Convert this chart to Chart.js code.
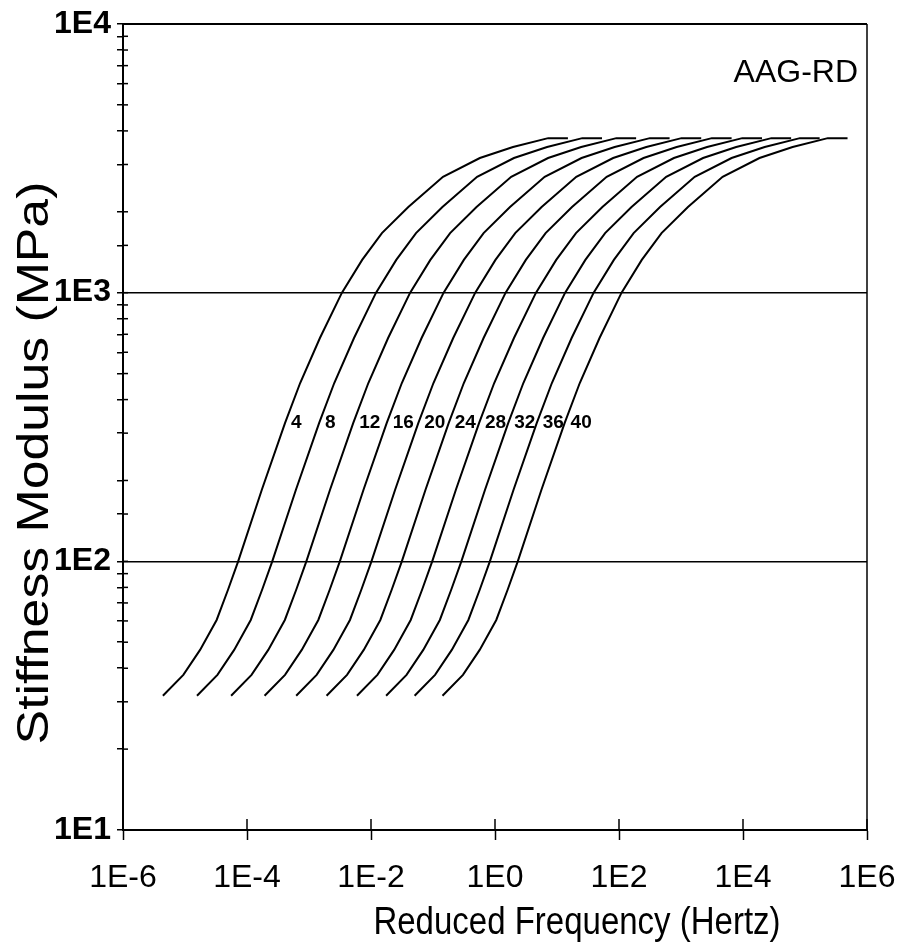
<!DOCTYPE html>
<html lang="en">
  <head>
    <meta charset="UTF-8" />
    <title>AAG-RD stiffness master curves</title>
    <script src="https://cdn.jsdelivr.net/npm/chart.js"></script>
    <style>
      body { margin: 0; background: #fff; }
    </style>
  </head>
  <body>
    <canvas id="myChart" width="906" height="948"></canvas>

    <script>
      // curve temperatures (deg C), also used as the curve labels
      const temperatures = [4, 8, 12, 16, 20, 24, 28, 32, 36, 40];
      // shift of each curve along the frequency axis, in decades, relative to the 4 C curve
      const logShift = [0, 0.55, 1.10, 1.64, 2.15, 2.64, 3.13, 3.60, 4.06, 4.51];
      // the 4 C curve
      const baseFrequency = [4.4e-6, 9.4e-6, 1.75e-5, 3.24e-5, 4.94e-5, 7.2e-5, 1.74e-4, 4.1e-4, 7.2e-4,
        1.5e-3, 3.4e-3, 7.2e-3, 1.5e-2, 4.0e-2, 0.145, 0.57, 1.95, 7.2, 15];
      const stiffness = [31.6, 37.8, 46.8, 60.5, 78.4, 100, 185, 327, 461,
        678, 1000, 1324, 1667, 2084, 2698, 3170, 3483, 3760, 3760];
      const xTickExponents = [-6, -4, -2, 0, 2, 4, 6];

      const FONT = '"Liberation Sans", Arial, sans-serif';
      const LABEL_MPA = 327;

      const datasets = temperatures.map((t, i) => ({
        label: t + ' °C',
        data: baseFrequency.map((f, j) => ({ x: f * Math.pow(10, logShift[i]), y: stiffness[j] })),
        showLine: true,
        fill: false,
        borderColor: '#000',
        borderWidth: 2,
        pointRadius: 0,
        tension: 0
      }));

      const isPow10 = v => Math.abs(Math.log10(v) - Math.round(Math.log10(v))) < 1e-9;

      // frequency where a curve passes a given stiffness (log-log interpolation)
      function freqAt(data, s) {
        for (let k = 1; k < data.length; k++) {
          const a = data[k - 1], b = data[k];
          if (s >= a.y && s <= b.y) {
            const t = (Math.log10(s) - Math.log10(a.y)) / (Math.log10(b.y) - Math.log10(a.y));
            return Math.pow(10, Math.log10(a.x) + t * (Math.log10(b.x) - Math.log10(a.x)));
          }
        }
        return data[0].x;
      }

      const decorations = {
        id: 'decorations',
        afterDraw(chart) {
          const { ctx, chartArea: area, scales: { x, y } } = chart;
          ctx.save();
          ctx.strokeStyle = '#000';

          // top and right frame
          ctx.lineWidth = 2;
          ctx.beginPath();
          ctx.moveTo(area.left, area.top);
          ctx.lineTo(area.right, area.top);
          ctx.stroke();
          ctx.lineWidth = 1.5;
          ctx.beginPath();
          ctx.moveTo(area.right, area.top);
          ctx.lineTo(area.right, area.bottom);
          ctx.stroke();

          // inner half of the tick marks
          ctx.lineWidth = 1.5;
          y.ticks.forEach(tk => {
            const py = y.getPixelForValue(tk.value);
            ctx.beginPath();
            ctx.moveTo(area.left, py);
            ctx.lineTo(area.left + 5, py);
            ctx.stroke();
          });
          x.ticks.forEach(tk => {
            const px = x.getPixelForValue(tk.value);
            ctx.beginPath();
            ctx.moveTo(px, area.bottom);
            ctx.lineTo(px, area.bottom - 11);
            ctx.stroke();
          });

          // curve labels
          ctx.fillStyle = '#000';
          ctx.font = 'bold 19px ' + FONT;
          ctx.textAlign = 'left';
          ctx.textBaseline = 'middle';
          const ly = y.getPixelForValue(LABEL_MPA);
          chart.data.datasets.forEach((ds, i) => {
            const lx = x.getPixelForValue(freqAt(ds.data, LABEL_MPA)) + 6;
            ctx.fillText(String(temperatures[i]), lx, ly);
          });

          // sample name
          ctx.font = '32px ' + FONT;
          ctx.textAlign = 'right';
          ctx.textBaseline = 'alphabetic';
          ctx.fillText('AAG-RD', 858, 82);

          // axis titles (the original lettering is narrow and tall)
          ctx.save();
          ctx.translate(577, 934);
          ctx.scale(1, 1.15);
          ctx.font = '33px ' + FONT;
          ctx.textAlign = 'center';
          ctx.fillText('Reduced Frequency (Hertz)', 0, 0);
          ctx.restore();

          ctx.save();
          ctx.translate(36, 463);
          ctx.rotate(-Math.PI / 2);
          ctx.scale(1.15, 1);
          ctx.font = '45px ' + FONT;
          ctx.textAlign = 'center';
          ctx.textBaseline = 'middle';
          ctx.fillText('Stiffness Modulus (MPa)', 0, 0);
          ctx.restore();

          ctx.restore();
        }
      };

      const ctx = document.getElementById('myChart').getContext('2d');
      const myChart = new Chart(ctx, {
        type: 'scatter',
        data: { datasets },
        options: {
          responsive: false,
          animation: false,
          layout: { padding: { top: 24, right: 39, left: 0, bottom: 0 } },
          plugins: { legend: { display: false }, tooltip: { enabled: false } },
          scales: {
            x: {
              type: 'logarithmic',
              min: 1e-6,
              max: 1e6,
              afterBuildTicks: scale => {
                scale.ticks = xTickExponents.map(e => ({ value: Math.pow(10, e) }));
              },
              afterFit: scale => {
                scale.height = 118;
                scale.paddingLeft = 0;
                scale.paddingRight = 0;
              },
              border: { display: true, color: '#000', width: 2 },
              grid: {
                drawOnChartArea: false,
                drawTicks: true,
                tickLength: 10,
                tickColor: '#000',
                tickWidth: 1.5
              },
              ticks: {
                autoSkip: false,
                maxRotation: 0,
                padding: 19,
                color: '#000',
                font: { family: FONT, size: 32 },
                callback: v => '1E' + Math.round(Math.log10(v))
              }
            },
            y: {
              type: 'logarithmic',
              min: 10,
              max: 10000,
              afterFit: scale => {
                scale.width = 123;
                scale.paddingTop = 0;
                scale.paddingBottom = 0;
              },
              border: { display: true, color: '#000', width: 2 },
              grid: {
                drawTicks: true,
                tickLength: 6,
                tickColor: '#000',
                tickWidth: 1.5,
                color: c => (c.tick && isPow10(c.tick.value)) ? '#000' : 'rgba(0,0,0,0)',
                lineWidth: 1.5
              },
              ticks: {
                autoSkip: false,
                padding: 6,
                color: '#000',
                font: { family: FONT, size: 32, weight: 'bold' },
                callback: v => isPow10(v) ? '1E' + Math.round(Math.log10(v)) : ''
              }
            }
          }
        },
        plugins: [decorations]
      });
    </script>
  </body>
</html>
